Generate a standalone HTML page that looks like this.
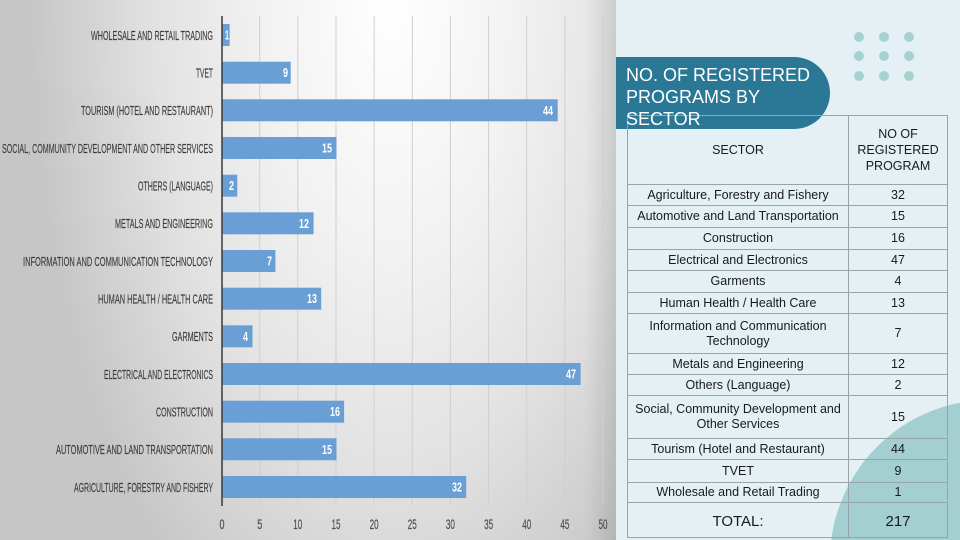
<!DOCTYPE html>
<html><head><meta charset="utf-8">
<style>
html,body{margin:0;padding:0;width:960px;height:540px;overflow:hidden;}
body{position:relative;background:#e4f0f4;font-family:"Liberation Sans",Arial,sans-serif;}
#left{position:absolute;left:0;top:0;width:616px;height:540px;
background:linear-gradient(to right,rgba(0,0,0,0) 0px,rgba(0,0,0,0) 585px,rgba(0,0,0,0.10) 616px),radial-gradient(ellipse 360px 720px at 390px 0px,#ffffff 0%,#f2f2f2 35%,#e2e2e2 65%,#c6c6c6 100%);}
svg{position:absolute;left:0;top:0;}
#tbl{position:absolute;left:627px;top:115px;border-collapse:collapse;table-layout:fixed;width:320px;}
#tbl td{border:1px solid #9aa3a6;text-align:center;vertical-align:middle;font-size:12.5px;color:#1a1a1a;padding:0 1px;line-height:15px;overflow:hidden;}
#title{position:absolute;left:616px;top:57px;width:214px;height:72px;background:#2a7896;border-radius:0 36px 36px 0;}
#ttext{position:absolute;left:626px;top:64px;color:#fff;font-size:18px;line-height:22px;white-space:nowrap;}
#wrap{position:absolute;left:0;top:0;width:960px;height:540px;overflow:hidden;}
</style></head><body>
<div id="wrap">
<div id="left"></div>
<svg width="960" height="540" viewBox="0 0 960 540">
  <path d="M831.3 540 A160 160 0 0 1 960 402.8 L960 540 Z" fill="#a4cfd0"/>
  <g fill="#a6d1d1">
    <circle cx="859" cy="37" r="5"/><circle cx="884" cy="37" r="5"/><circle cx="909" cy="37" r="5"/>
    <circle cx="859" cy="56" r="5"/><circle cx="884" cy="56" r="5"/><circle cx="909" cy="56" r="5"/>
    <circle cx="859" cy="76" r="5"/><circle cx="884" cy="76" r="5"/><circle cx="909" cy="76" r="5"/>
  </g>
  <g stroke="#cfcfcf" stroke-width="1">
    <line x1="259.7" y1="16" x2="259.7" y2="505"/>
    <line x1="297.8" y1="16" x2="297.8" y2="505"/>
    <line x1="336" y1="16" x2="336" y2="505"/>
    <line x1="374.1" y1="16" x2="374.1" y2="505"/>
    <line x1="412.3" y1="16" x2="412.3" y2="505"/>
    <line x1="450.4" y1="16" x2="450.4" y2="505"/>
    <line x1="488.6" y1="16" x2="488.6" y2="505"/>
    <line x1="526.7" y1="16" x2="526.7" y2="505"/>
    <line x1="564.9" y1="16" x2="564.9" y2="505"/>
    <line x1="603" y1="16" x2="603" y2="505"/>
  </g>
  <g fill="#6a9fd5">
    <rect x="222" y="24" width="7.6" height="22"/>
    <rect x="222" y="61.7" width="68.7" height="22"/>
    <rect x="222" y="99.3" width="335.7" height="22"/>
    <rect x="222" y="137" width="114.5" height="22"/>
    <rect x="222" y="174.7" width="15.3" height="22"/>
    <rect x="222" y="212.3" width="91.6" height="22"/>
    <rect x="222" y="250" width="53.4" height="22"/>
    <rect x="222" y="287.7" width="99.2" height="22"/>
    <rect x="222" y="325.3" width="30.5" height="22"/>
    <rect x="222" y="363" width="358.6" height="22"/>
    <rect x="222" y="400.7" width="122.1" height="22"/>
    <rect x="222" y="438.3" width="114.5" height="22"/>
    <rect x="222" y="476" width="244.2" height="22"/>
  </g>
  <line x1="222" y1="16" x2="222" y2="506" stroke="#3a3a3a" stroke-width="1.5"/>
  <g fill="#ffffff" font-size="13" font-weight="bold" text-anchor="end">
    <text x="229" y="39.5" textLength="4" lengthAdjust="spacingAndGlyphs">1</text>
    <text x="288" y="77" textLength="5" lengthAdjust="spacingAndGlyphs">9</text>
    <text x="553" y="115" textLength="10" lengthAdjust="spacingAndGlyphs">44</text>
    <text x="332" y="152.5" textLength="10" lengthAdjust="spacingAndGlyphs">15</text>
    <text x="234" y="190" textLength="5" lengthAdjust="spacingAndGlyphs">2</text>
    <text x="309" y="228" textLength="10" lengthAdjust="spacingAndGlyphs">12</text>
    <text x="272" y="265.5" textLength="5" lengthAdjust="spacingAndGlyphs">7</text>
    <text x="317" y="303" textLength="10" lengthAdjust="spacingAndGlyphs">13</text>
    <text x="248" y="341" textLength="5" lengthAdjust="spacingAndGlyphs">4</text>
    <text x="576" y="378.5" textLength="10" lengthAdjust="spacingAndGlyphs">47</text>
    <text x="340" y="416" textLength="10" lengthAdjust="spacingAndGlyphs">16</text>
    <text x="332" y="454" textLength="10" lengthAdjust="spacingAndGlyphs">15</text>
    <text x="462" y="491.5" textLength="10" lengthAdjust="spacingAndGlyphs">32</text>
  </g>
  <g fill="#3c3c3c" font-size="13" text-anchor="end" stroke="#3c3c3c" stroke-width="0.15">
    <text x="213" y="40" textLength="122" lengthAdjust="spacingAndGlyphs">WHOLESALE AND RETAIL TRADING</text>
    <text x="213" y="77.5" textLength="17" lengthAdjust="spacingAndGlyphs">TVET</text>
    <text x="213" y="115" textLength="132" lengthAdjust="spacingAndGlyphs">TOURISM (HOTEL AND RESTAURANT)</text>
    <text x="213" y="153" textLength="211" lengthAdjust="spacingAndGlyphs">SOCIAL, COMMUNITY DEVELOPMENT AND OTHER SERVICES</text>
    <text x="213" y="190.5" textLength="75" lengthAdjust="spacingAndGlyphs">OTHERS (LANGUAGE)</text>
    <text x="213" y="228" textLength="98" lengthAdjust="spacingAndGlyphs">METALS AND ENGINEERING</text>
    <text x="213" y="266" textLength="190" lengthAdjust="spacingAndGlyphs">INFORMATION AND COMMUNICATION TECHNOLOGY</text>
    <text x="213" y="303.5" textLength="115" lengthAdjust="spacingAndGlyphs">HUMAN HEALTH / HEALTH CARE</text>
    <text x="213" y="341" textLength="41" lengthAdjust="spacingAndGlyphs">GARMENTS</text>
    <text x="213" y="379" textLength="109" lengthAdjust="spacingAndGlyphs">ELECTRICAL AND ELECTRONICS</text>
    <text x="213" y="416.5" textLength="57" lengthAdjust="spacingAndGlyphs">CONSTRUCTION</text>
    <text x="213" y="454" textLength="157" lengthAdjust="spacingAndGlyphs">AUTOMOTIVE AND LAND TRANSPORTATION</text>
    <text x="213" y="492" textLength="139" lengthAdjust="spacingAndGlyphs">AGRICULTURE, FORESTRY AND FISHERY</text>
  </g>
  <g fill="#4f4f4f" font-size="14" text-anchor="middle" stroke="#4f4f4f" stroke-width="0.2">
    <text x="222" y="529" textLength="5" lengthAdjust="spacingAndGlyphs">0</text>
    <text x="259.7" y="529" textLength="5" lengthAdjust="spacingAndGlyphs">5</text>
    <text x="297.8" y="529" textLength="9" lengthAdjust="spacingAndGlyphs">10</text>
    <text x="336" y="529" textLength="9" lengthAdjust="spacingAndGlyphs">15</text>
    <text x="374.1" y="529" textLength="9" lengthAdjust="spacingAndGlyphs">20</text>
    <text x="412.3" y="529" textLength="9" lengthAdjust="spacingAndGlyphs">25</text>
    <text x="450.4" y="529" textLength="9" lengthAdjust="spacingAndGlyphs">30</text>
    <text x="488.6" y="529" textLength="9" lengthAdjust="spacingAndGlyphs">35</text>
    <text x="526.7" y="529" textLength="9" lengthAdjust="spacingAndGlyphs">40</text>
    <text x="564.9" y="529" textLength="9" lengthAdjust="spacingAndGlyphs">45</text>
    <text x="603" y="529" textLength="9" lengthAdjust="spacingAndGlyphs">50</text>
  </g>
</svg>
<div id="title"></div>
<table id="tbl">
  <colgroup><col style="width:221px"><col style="width:99px"></colgroup>
  <tr style="height:69px"><td>SECTOR</td><td style="line-height:16px">NO OF<br>REGISTERED<br>PROGRAM</td></tr>
  <tr style="height:21px"><td>Agriculture, Forestry and Fishery</td><td>32</td></tr>
  <tr style="height:22px"><td>Automotive and Land Transportation</td><td>15</td></tr>
  <tr style="height:22px"><td>Construction</td><td>16</td></tr>
  <tr style="height:21px"><td>Electrical and Electronics</td><td>47</td></tr>
  <tr style="height:22px"><td>Garments</td><td>4</td></tr>
  <tr style="height:21px"><td>Human Health / Health Care</td><td>13</td></tr>
  <tr style="height:40px"><td>Information and Communication<br>Technology</td><td>7</td></tr>
  <tr style="height:21px"><td>Metals and Engineering</td><td>12</td></tr>
  <tr style="height:21px"><td>Others (Language)</td><td>2</td></tr>
  <tr style="height:43px"><td>Social, Community Development and<br>Other Services</td><td>15</td></tr>
  <tr style="height:21px"><td>Tourism (Hotel and Restaurant)</td><td>44</td></tr>
  <tr style="height:23px"><td>TVET</td><td>9</td></tr>
  <tr style="height:20px"><td>Wholesale and Retail Trading</td><td>1</td></tr>
  <tr style="height:35px"><td style="font-size:15px;padding-top:3px">TOTAL:</td><td style="font-size:15px;padding-top:3px">217</td></tr>
</table>
<div id="ttext">NO. OF REGISTERED<br>PROGRAMS BY<br>SECTOR</div>
</div>
</body></html>
